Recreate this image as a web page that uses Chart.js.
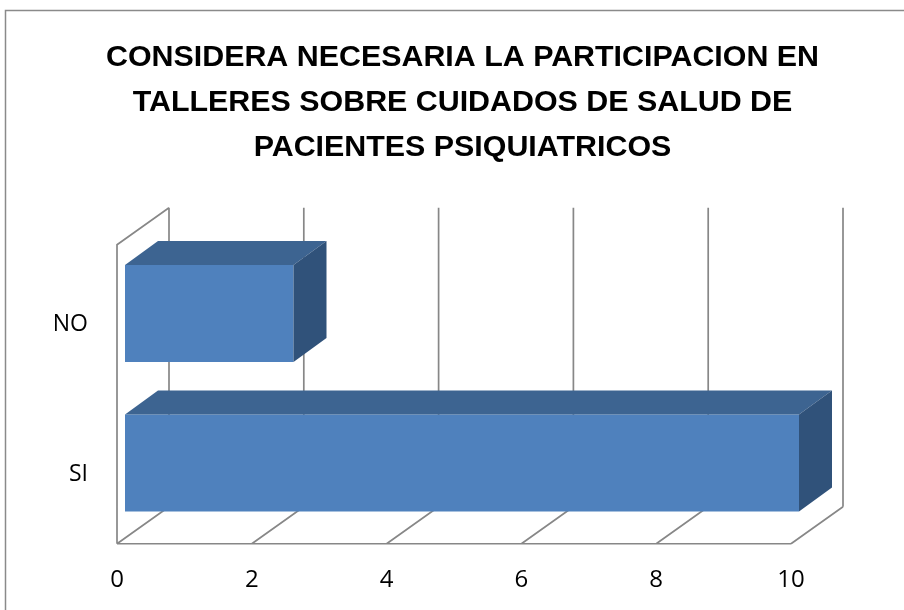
<!DOCTYPE html>
<html>
<head>
<meta charset="utf-8">
<script src="https://cdn.jsdelivr.net/npm/chart.js@4"></script>
<style>
  html, body { margin: 0; padding: 0; background: #ffffff; }
  #wrap { width: 904px; height: 610px; position: relative; }
</style>
</head>
<body>
<div id="wrap"><canvas id="chart"></canvas></div>
<script>
const titleLines = [
  'CONSIDERA NECESARIA LA PARTICIPACION EN',
  'TALLERES SOBRE CUIDADOS DE SALUD DE',
  'PACIENTES PSIQUIATRICOS'
];
const categories = ['NO', 'SI'];
const values = [2.5, 10];
const axisMin = 0;
const axisMax = 10;
const axisStep = 2;

const colors = {
  front: '#4F81BD',
  top: '#3D6491',
  side: '#30527A',
  grid: '#878787',
  frame: '#8A8A8A',
  text: '#000000'
};

// depth of the bars and of the walls, relative to the bar front plane
const barDepth = { dx: 33, dy: -24 };
const wallFront = { dx: -8, dy: 6 };
const wallBack = { dx: 44, dy: -31 };

const frame3d = {
  id: 'frame3d',
  beforeDraw(chart) {
    const { ctx } = chart;
    ctx.save();
    ctx.strokeStyle = colors.frame;
    ctx.lineWidth = 1.5;
    ctx.strokeRect(5.5, 10.5, 1000, 1000);
    ctx.restore();
  },
  beforeDatasetsDraw(chart) {
    const { ctx, chartArea: a, scales: { x } } = chart;
    const px = (v) => x.getPixelForValue(v);
    const fTop = a.top + wallFront.dy, fBot = a.bottom + wallFront.dy;
    const bTop = a.top + wallBack.dy, bBot = a.bottom + wallBack.dy;
    ctx.save();
    ctx.strokeStyle = colors.grid;
    ctx.lineWidth = 1.7;
    ctx.beginPath();
    // left side wall
    ctx.moveTo(px(axisMin) + wallFront.dx, fBot);
    ctx.lineTo(px(axisMin) + wallFront.dx, fTop);
    ctx.lineTo(px(axisMin) + wallBack.dx, bTop);
    // floor front edge
    ctx.moveTo(px(axisMin) + wallFront.dx, fBot);
    ctx.lineTo(px(axisMax) + wallFront.dx, fBot);
    for (let v = axisMin; v <= axisMax; v += axisStep) {
      // back wall gridline
      ctx.moveTo(px(v) + wallBack.dx, bTop);
      ctx.lineTo(px(v) + wallBack.dx, bBot);
      // floor diagonal
      ctx.moveTo(px(v) + wallFront.dx, fBot);
      ctx.lineTo(px(v) + wallBack.dx, bBot);
    }
    ctx.stroke();
    ctx.restore();
  },
  afterDatasetsDraw(chart) {
    const { ctx } = chart;
    const meta = chart.getDatasetMeta(0);
    ctx.save();
    meta.data.forEach((bar) => {
      const { x, y, base, height } = bar.getProps(['x', 'y', 'base', 'height'], true);
      const top = y - height / 2;
      const bottom = y + height / 2;
      ctx.fillStyle = colors.top;
      ctx.beginPath();
      ctx.moveTo(base, top);
      ctx.lineTo(x, top);
      ctx.lineTo(x + barDepth.dx, top + barDepth.dy);
      ctx.lineTo(base + barDepth.dx, top + barDepth.dy);
      ctx.closePath();
      ctx.fill();
      ctx.fillStyle = colors.side;
      ctx.beginPath();
      ctx.moveTo(x, top);
      ctx.lineTo(x + barDepth.dx, top + barDepth.dy);
      ctx.lineTo(x + barDepth.dx, bottom + barDepth.dy);
      ctx.lineTo(x, bottom);
      ctx.closePath();
      ctx.fill();
    });
    ctx.restore();
  }
};

new Chart(document.getElementById('chart'), {
  type: 'bar',
  data: {
    labels: categories,
    datasets: [
      {
        data: values,
        backgroundColor: colors.front,
        borderWidth: 0,
        barPercentage: 0.65,
        categoryPercentage: 1
      }
    ]
  },
  options: {
    indexAxis: 'y',
    responsive: true,
    maintainAspectRatio: false,
    animation: false,
    layout: { padding: { left: 21, right: 0, top: 0, bottom: 0 } },
    plugins: {
      legend: { display: false },
      tooltip: { enabled: false },
      title: {
        display: true,
        text: titleLines,
        color: colors.text,
        font: { family: "'Liberation Sans', sans-serif", size: 30.4, weight: 'bold', lineHeight: 45 / 30.4 },
        padding: { top: 35.5, bottom: 68.25 }
      }
    },
    scales: {
      x: {
        min: axisMin,
        max: axisMax,
        afterFit(scale) { scale.height = 72.25; },
        grid: { display: false, drawTicks: false, tickLength: 0 },
        border: { display: false },
        ticks: {
          stepSize: axisStep,
          color: colors.text,
          padding: 28,
          labelOffset: -8,
          font: { family: "'Open Sans', sans-serif", size: 24 }
        }
      },
      y: {
        afterFit(scale) { scale.width = 104; },
        grid: { display: false, drawTicks: false, tickLength: 0 },
        border: { display: false },
        ticks: {
          color: colors.text,
          padding: 37,
          labelOffset: 11,
          font: { family: "'Open Sans', sans-serif", size: 23 }
        }
      },
      // empty right axis that only keeps space for the 3D depth
      yRight: {
        axis: 'y',
        type: 'linear',
        position: 'right',
        afterFit(scale) { scale.width = 105; },
        grid: { display: false, drawTicks: false, tickLength: 0 },
        border: { display: false },
        ticks: { display: false }
      }
    }
  },
  plugins: [frame3d]
});
</script>
</body>
</html>
